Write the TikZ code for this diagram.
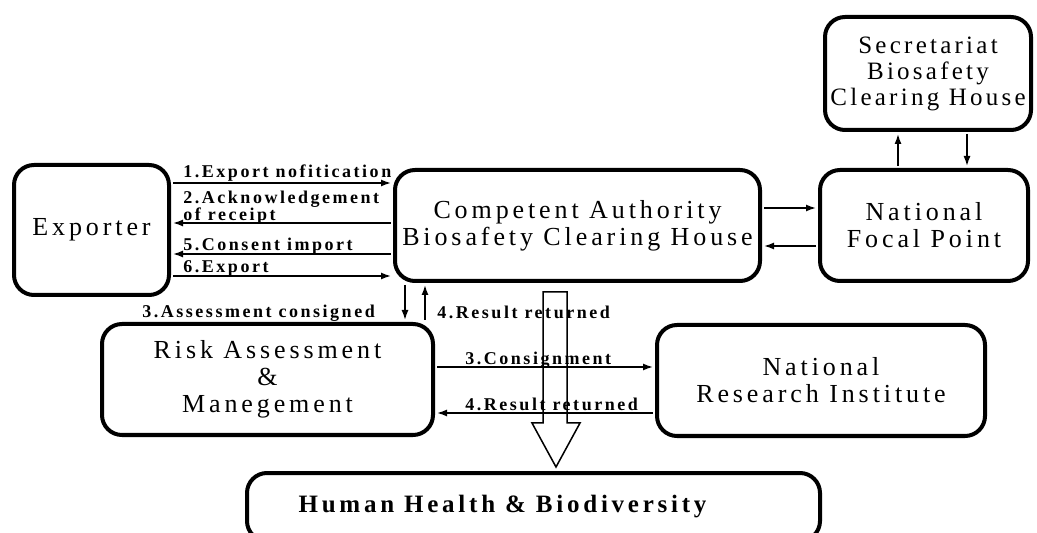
\documentclass[tikz,border=0pt]{standalone}
\usepackage{fontspec}
\setmainfont{Liberation Serif}
\newfontfamily\boxfont{Liberation Serif}[LetterSpace=15]
\newfontfamily\secfont{Liberation Serif}[LetterSpace=13]
\newfontfamily\lblfont{Liberation Serif}[LetterSpace=14]
\newfontfamily\hhfont{Liberation Serif}[LetterSpace=15]
\usetikzlibrary{arrows.meta}

\begin{document}
\begin{tikzpicture}[x=0.5pt, y=-0.5pt, >={Latex[length=5pt,width=3.5pt]},
    box/.style={draw, line width=2pt, rounded corners=10pt, align=center, inner sep=0pt,
        font=\boxfont\fontsize{13}{13.5}\selectfont},
    lbl/.style={anchor=base west, inner sep=0pt, align=left,
        font=\lblfont\bfseries\fontsize{9}{8.5}\selectfont},
    link/.style={line width=0.75pt, shorten >=1pt, shorten <=1pt}]

    \useasboundingbox (0,0) rectangle (1037,533);
    \clip (0,0) rectangle (1037,533);

    \node[box, minimum width=77.5pt, minimum height=65pt] (exp) at (91.5,230) {Exporter};
    \node[box, minimum width=182.5pt, minimum height=55.5pt] (ca) at (577.5,225.5) {Competent Authority\\Biosafety Clearing House};
    \node[box, minimum width=104pt, minimum height=55.5pt] (nfp) at (924,225.5) {National\\Focal Point};
    \node[box, minimum width=103pt, minimum height=56.5pt,
        font=\secfont\fontsize{12.5}{13}\selectfont] (sec) at (928,73.5) {Secretariat\\Biosafety\\Clearing House};
    \node[box, minimum width=165.5pt, minimum height=55.5pt] (ra) at (267.5,379.5) {Risk Assessment\\\&\\Manegement};
    \node[box, minimum width=164pt, minimum height=55.5pt] (nri) at (821,380.5) {National\\Research Institute};
    \node[box, minimum width=286.5pt, minimum height=34pt,
        font=\hhfont\bfseries\fontsize{12.5}{13}\selectfont] (hh) at (533.5,507) {Human Health \& Biodiversity\hspace*{31pt}};

    \node[lbl] (l1) at (183,178) {1.Export nofitication};
    \node[lbl] (l2) at (183,221) {2.Acknowledgement\\of receipt};
    \node[lbl] (l5) at (183,251) {5.Consent import};
    \node[lbl] (l6) at (183,273) {6.Export};
    \node[lbl] (l3a) at (142,318) {3.Assessment consigned};
    \node[lbl] (l4a) at (437,319) {4.Result returned};
    \node[lbl] (l3b) at (465,365) {3.Consignment};
    \node[lbl] (l4b) at (465,410) {4.Result returned};

    \foreach \y/\tip in {183/->, 223/<-, 254/<-, 276/->} {
        \draw[link, \tip] (exp.east |- 0,\y) -- (ca.west |- 0,\y);
    }
    \draw[link, ->] (ca.south -| 405,0) -- (ra.north -| 405,0);
    \draw[link, <-] (ca.south -| 425,0) -- (ra.north -| 425,0);
    \draw[link, ->] (ca.east |- 0,208) -- (nfp.west |- 0,208);
    \draw[link, <-] (ca.east |- 0,246) -- (nfp.west |- 0,246);
    \draw[link, <-] (sec.south -| 898,0) -- (nfp.north -| 898,0);
    \draw[link, ->] (sec.south -| 967,0) -- (nfp.north -| 967,0);
    \draw[link, ->] (ra.east |- 0,367) -- (nri.west |- 0,367);
    \draw[link, <-] (ra.east |- 0,413) -- (nri.west |- 0,413);

    \draw[line width=0.75pt] (543,292) -- (543,423) -- (532,423) -- (556,467)
        -- (580,423) -- (567,423) -- (567,292) -- cycle;
\end{tikzpicture}
\end{document}
